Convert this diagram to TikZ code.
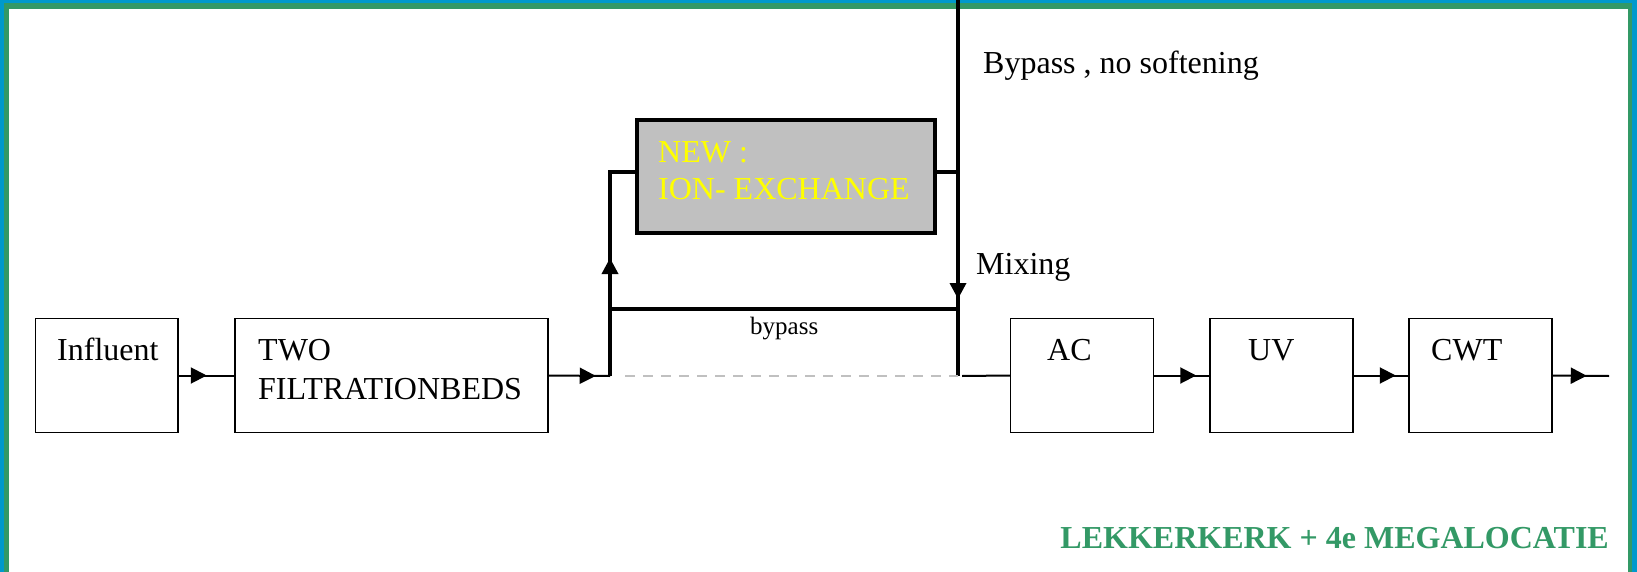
\documentclass[tikz,border=0pt]{standalone}
\usepackage{fontspec}
\setmainfont{Liberation Serif}
\usetikzlibrary{arrows.meta,decorations.markings}
\definecolor{frameblue}{HTML}{0099CC}
\definecolor{framegreen}{HTML}{339966}
\definecolor{ixgray}{HTML}{C0C0C0}
\definecolor{ixyellow}{HTML}{FFFF00}
\definecolor{dashgray}{HTML}{C0C0C0}
\tikzset{
  box/.style={draw, line width=1.5pt, rectangle, inner sep=0pt, minimum height=114pt},
  ixbox/.style={draw, line width=4pt, rectangle, inner sep=0pt, fill=ixgray, minimum width=298pt, minimum height=113pt},
  lbl/.style={anchor=base west, inner sep=0pt, font=\fontsize{32}{38}\selectfont},
  thinflow/.style={line width=2pt},
  thickflow/.style={line width=3.5pt},
  arrowat/.style={postaction={decorate}, decoration={markings, mark=at position #1 with {\arrow{Triangle[length=16pt,width=16pt]}}}},
}
\begin{document}
\begin{tikzpicture}[x=1pt,y=-1pt]
\useasboundingbox (0,0) rectangle (1637,572);
% frame
\fill[frameblue] (0,0) rectangle (4,572);
\fill[frameblue] (0,0) rectangle (1637,3);
\fill[frameblue] (1632,0) rectangle (1637,572);
\fill[framegreen] (4,3) rectangle (9,572);
\fill[framegreen] (4,3) rectangle (1632,9);
\fill[framegreen] (1628,3) rectangle (1632,572);

% boxes
\node[box, minimum width=142.5pt] (inf) at (106.75,375.5) {};
\node[box, minimum width=313pt] (filt) at (391.5,375.5) {};
\node[ixbox] (ix) at (786,176.5) {};
\node[box, minimum width=143pt] (ac) at (1082,375.5) {};
\node[box, minimum width=143pt] (uv) at (1281.5,375.5) {};
\node[box, minimum width=143pt] (cwt) at (1480.5,375.5) {};

% texts
\node[lbl] (tinf) at (57,360) {Influent};
\node[lbl] (ttwo) at (258,360) {TWO};
\node[lbl] (tfilt) at (258,399) {FILTRATIONBEDS};
\node[lbl, text=ixyellow] (tnew) at (658,163) {NEW :};
\node[lbl, text=ixyellow] (tion) at (658,200) {ION- EXCHANGE};
\node[lbl] (tac) at (1047,360) {AC};
\node[lbl] (tuv) at (1248,360) {UV};
\node[lbl] (tcwt) at (1431,360) {CWT};
\node[lbl] (tbyp) at (983,74) {Bypass , no softening};
\node[lbl] (tmix) at (976,274) {Mixing};
\node[anchor=base west, inner sep=0pt, font=\fontsize{25}{30}\selectfont] (tbypass) at (750,334) {bypass};
\node[anchor=base east, inner sep=0pt, font=\fontsize{32}{38}\selectfont\bfseries, text=framegreen] (ttitle) at (1609,548) {LEKKERKERK + 4e MEGALOCATIE};

% junction coordinates
\coordinate (b1) at (610,376);
\coordinate (b2) at (610,172);
\coordinate (b3) at (610,309);
\coordinate (m0) at (958,0);
\coordinate (m1) at (958,172);
\coordinate (m2) at (958,309);
\coordinate (m3) at (958,376);
\coordinate (out) at (1609,376);

% connectors
\draw[thinflow, arrowat=28pt] (inf.east) -- (filt.west);
\draw[thinflow, arrowat=47pt] (filt.east) -- (b1);
\draw[thickflow, arrowat=118pt] (b1) -- (b2) -- (b2 -| ix.west);
\draw[thickflow] (ix.east |- m1) -- (m1);
\draw[thickflow, arrowat=299pt] (m0) -- (m3);
\draw[thickflow] (b3) -- (m2);
\draw[thinflow, dashgray, dash pattern=on 10pt off 8pt] ([xshift=15pt]b1) -- (m3);
\draw[thinflow] ([xshift=4pt]m3) -- (ac.west);
\draw[thinflow, arrowat=42pt] (ac.east) -- (uv.west);
\draw[thinflow, arrowat=42pt] (uv.east) -- (cwt.west);
\draw[thinflow, arrowat=34pt] (cwt.east) -- (out);
\end{tikzpicture}
\end{document}
